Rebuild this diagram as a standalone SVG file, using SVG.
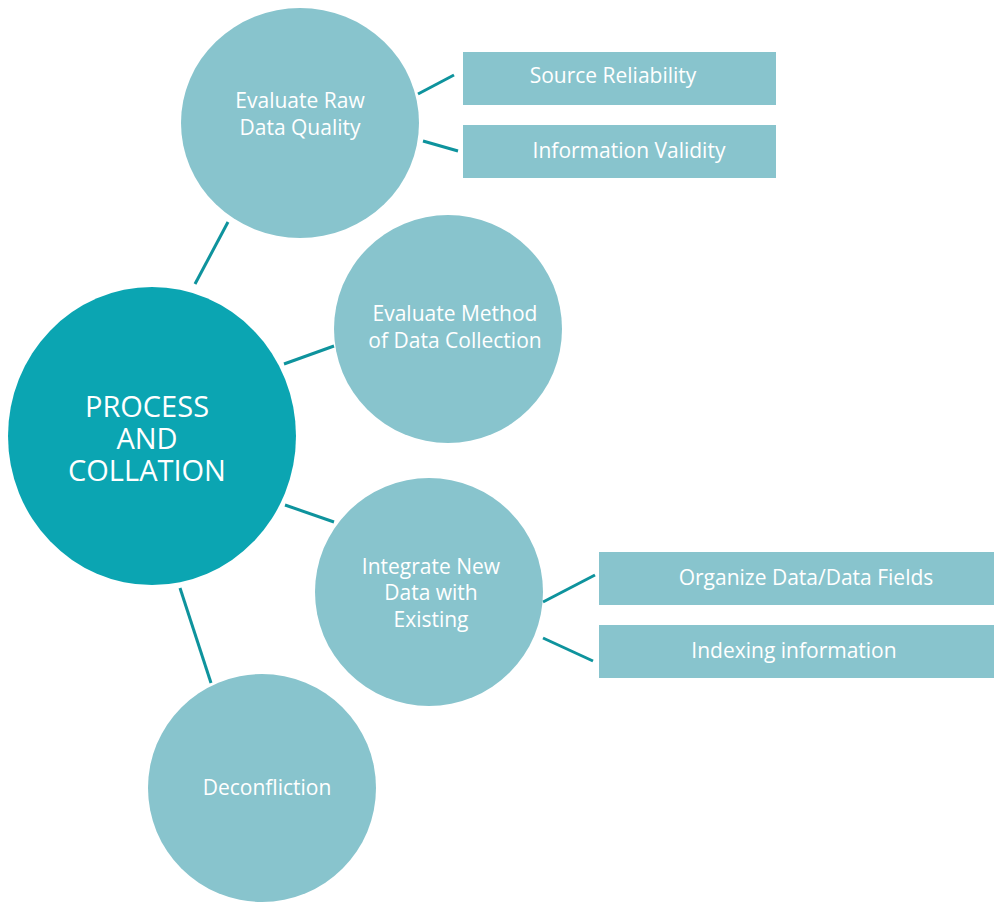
<svg xmlns="http://www.w3.org/2000/svg" width="994" height="903" viewBox="0 0 994 903">
<style>
.main{fill:#0ba5b2}
.sub{fill:#88c4cd}
.conn line{stroke:#0e939d;stroke-width:3;stroke-linecap:butt}
text{font-family:"Open Sans","Liberation Sans",sans-serif;fill:#ffffff;text-anchor:middle}
.t{font-size:21px}
.tm{font-size:29px}
</style>
<rect width="994" height="903" fill="#ffffff"/>
<g class="conn" id="connectors">
<line x1="195" y1="284" x2="228" y2="222"/>
<line x1="284" y1="364" x2="334" y2="346"/>
<line x1="285" y1="505" x2="334" y2="522"/>
<line x1="180" y1="588" x2="211" y2="683"/>
<line x1="418" y1="94" x2="454" y2="75"/>
<line x1="423" y1="141" x2="458" y2="151"/>
<line x1="543" y1="602" x2="595" y2="575"/>
<line x1="543" y1="638" x2="593" y2="661"/>
</g>
<g id="main">
<ellipse class="main" cx="152" cy="436" rx="144" ry="149"/>
<text class="tm" x="147" y="417">PROCESS</text>
<text class="tm" x="147" y="449">AND</text>
<text class="tm" x="147" y="481">COLLATION</text>
</g>
<g id="raw">
<ellipse class="sub" cx="300" cy="123" rx="119" ry="115"/>
<text class="t" x="300" y="108">Evaluate Raw</text>
<text class="t" x="300" y="135">Data Quality</text>
</g>
<g id="method">
<circle class="sub" cx="448" cy="329" r="114"/>
<text class="t" x="455" y="321">Evaluate Method</text>
<text class="t" x="455" y="348">of Data Collection</text>
</g>
<g id="integrate">
<circle class="sub" cx="429" cy="592" r="114"/>
<text class="t" x="431" y="574">Integrate New</text>
<text class="t" x="431" y="600">Data with</text>
<text class="t" x="431" y="627">Existing</text>
</g>
<g id="deconfliction">
<circle class="sub" cx="262" cy="788" r="114"/>
<text class="t" x="267" y="795">Deconfliction</text>
</g>
<g id="source">
<rect class="sub" x="463" y="52" width="313" height="53"/>
<text class="t" x="613" y="83">Source Reliability</text>
</g>
<g id="validity">
<rect class="sub" x="463" y="125" width="313" height="53"/>
<text class="t" x="629" y="158">Information Validity</text>
</g>
<g id="organize">
<rect class="sub" x="599" y="552" width="395" height="53"/>
<text class="t" x="806" y="585">Organize Data/Data Fields</text>
</g>
<g id="indexing">
<rect class="sub" x="599" y="625" width="395" height="53"/>
<text class="t" x="794" y="658">Indexing information</text>
</g>
</svg>
